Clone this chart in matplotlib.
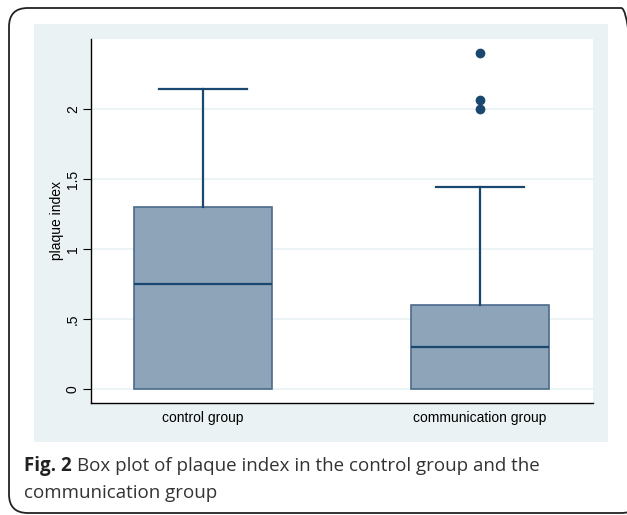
import matplotlib.pyplot as plt
from matplotlib.patches import FancyBboxPatch, Rectangle

# values
groups = ["control group", "communication group"]
q1 = [0.0, 0.0]
medians = [0.75, 0.30]
q3 = [1.30, 0.60]
whisker_low = [0.0, 0.0]
whisker_high = [2.14, 1.44]
outliers = [[], [2.00, 2.065, 2.40]]

yticks = [0, 0.5, 1, 1.5, 2]
ytick_labels = ["0", ".5", "1", "1.5", "2"]

W, H = 627, 515
navy = "#1a476f"
fill = "#8ea4b9"
edge = "#4a6a8c"
bg = "#eaf2f3"

fig = plt.figure(figsize=(W / 100, H / 100), dpi=100)
fig.patch.set_facecolor("white")


def fx(px):
    return px / W


def fy(py):
    return 1 - py / H


# rounded outer frame (right side runs off the image)
frame = FancyBboxPatch((fx(9), fy(513)), fx(640) - fx(9), fy(8) - fy(513),
                       boxstyle="round,pad=0,rounding_size=0.03",
                       transform=fig.transFigure, fill=False,
                       edgecolor="#222222", linewidth=1.3, mutation_aspect=W / H)
fig.patches.append(frame)

# light graph region
fig.patches.append(Rectangle((fx(34), fy(442)), fx(608) - fx(34), fy(24) - fy(442),
                             transform=fig.transFigure, facecolor=bg,
                             edgecolor="none", zorder=0))

ax = fig.add_axes([fx(91), fy(403), fx(593) - fx(91), fy(39) - fy(403)])
ax.set_facecolor("white")
ax.set_zorder(1)

stats = []
for i, g in enumerate(groups):
    stats.append(dict(label=g, q1=q1[i], med=medians[i], q3=q3[i],
                      whislo=whisker_low[i], whishi=whisker_high[i],
                      fliers=outliers[i]))

bp = ax.bxp(stats, positions=[1, 2], widths=0.5, capwidths=0.32,
            patch_artist=True, showcaps=True,
            boxprops=dict(facecolor=fill, edgecolor=edge, linewidth=1.2),
            medianprops=dict(color=navy, linewidth=1.6),
            whiskerprops=dict(color=navy, linewidth=1.6),
            capprops=dict(color=navy, linewidth=1.6),
            flierprops=dict(marker="o", markerfacecolor=navy, markeredgecolor=navy,
                            markersize=6))

# lower whiskers sit on the box edge, so no visible cap there
for i, cap in enumerate(bp["caps"]):
    if i % 2 == 0:
        cap.set_visible(False)

ax.set_xlim(0.596, 2.408)
ax.set_ylim(-0.1, 2.5)
ax.set_yticks(yticks)
ax.set_yticklabels(ytick_labels, rotation=90, va="center", fontsize=10,
                   family="Liberation Sans")
ax.set_xticks([1, 2])
ax.set_xticklabels(groups, fontsize=10, family="Liberation Sans")
ax.tick_params(axis="x", length=0, pad=6)
ax.tick_params(axis="y", length=6, width=0.8, pad=2)
ax.set_ylabel("plaque index", fontsize=10, family="Liberation Sans", labelpad=1)

ax.yaxis.grid(True, color=bg, linewidth=1.2)
ax.set_axisbelow(True)
for s in ["top", "right"]:
    ax.spines[s].set_visible(False)
for s in ["left", "bottom"]:
    ax.spines[s].set_linewidth(1.0)

# caption: bold "Fig. 2" followed by normal text
t_bold = fig.text(fx(24), fy(466), "Fig. 2", fontsize=13.5, family="Open Sans",
                  weight="bold", va="center", ha="left", color="#222222")
fig.canvas.draw()
bb = t_bold.get_window_extent()
fig.text(bb.x1 / W + fx(5), fy(466), "Box plot of plaque index in the control group and the",
         fontsize=13.5, family="Open Sans", va="center", ha="left", color="#333333")
fig.text(fx(24), fy(493), "communication group", fontsize=13.5, family="Open Sans",
         va="center", ha="left", color="#333333")

fig.savefig("out.png", dpi=100)
